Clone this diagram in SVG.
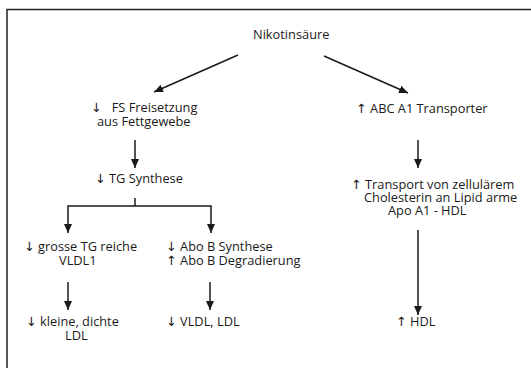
<svg xmlns="http://www.w3.org/2000/svg" width="531" height="368" viewBox="0 0 531 368">
<defs>
<marker id="ah" markerWidth="9" markerHeight="8" refX="9" refY="4" orient="auto" markerUnits="userSpaceOnUse">
<path d="M0,0 L9,4 L0,8 Z" fill="#1a1a1a"/>
</marker>
<style>
text{font-family:"Open Sans","DejaVu Sans",sans-serif;font-size:12.8px;fill:#1a1a1a}
.c{stroke:#1a1a1a;stroke-width:1.5;fill:none}
.a{marker-end:url(#ah)}
.frame{stroke:#222;stroke-width:1.5;fill:none}
</style>
</defs>
<rect width="531" height="368" fill="#fff"/>
<path class="frame" d="M7,368 V9.5 H531"/>
<g id="connectors">
<line class="c a" x1="238" y1="55" x2="154" y2="92"/>
<line class="c a" x1="324" y1="56" x2="408" y2="93"/>
<line class="c a" x1="135" y1="140" x2="135" y2="168"/>
<line class="c a" x1="418" y1="140" x2="418" y2="168"/>
<line class="c" x1="135" y1="198" x2="135" y2="206"/>
<path class="c a" d="M135,206 H68 V233"/>
<path class="c a" d="M135,206 H211 V233"/>
<line class="c a" x1="68" y1="282" x2="68" y2="310"/>
<line class="c a" x1="210" y1="282" x2="210" y2="310"/>
<line class="c a" x1="418" y1="230" x2="418" y2="315"/>
</g>
<g id="n-nikotin"><text x="253" y="39">Nikotinsäure</text></g>
<g id="n-fs"><text x="91" y="112">↓&#160;&#160; FS Freisetzung</text><text x="97" y="125.5">aus Fettgewebe</text></g>
<g id="n-abc"><text x="356" y="112.5">↑ ABC A1 Transporter</text></g>
<g id="n-tg"><text x="95" y="183">↓ TG Synthese</text></g>
<g id="n-transport"><text x="351" y="188.5">↑ Transport von zellulärem</text><text x="364" y="201.5">Cholesterin an Lipid arme</text><text x="388" y="214.5">Apo A1 - HDL</text></g>
<g id="n-vldl1"><text x="24" y="251">↓ grosse TG reiche</text><text x="59" y="265">VLDL1</text></g>
<g id="n-abob"><text x="166" y="251">↓ Abo B Synthese</text><text x="166" y="265">↑ Abo B Degradierung</text></g>
<g id="n-ldl"><text x="26" y="326">↓ kleine, dichte</text><text x="65" y="340">LDL</text></g>
<g id="n-vldlldl"><text x="166" y="326">↓ VLDL, LDL</text></g>
<g id="n-hdl"><text x="396" y="326">↑ HDL</text></g>
</svg>
